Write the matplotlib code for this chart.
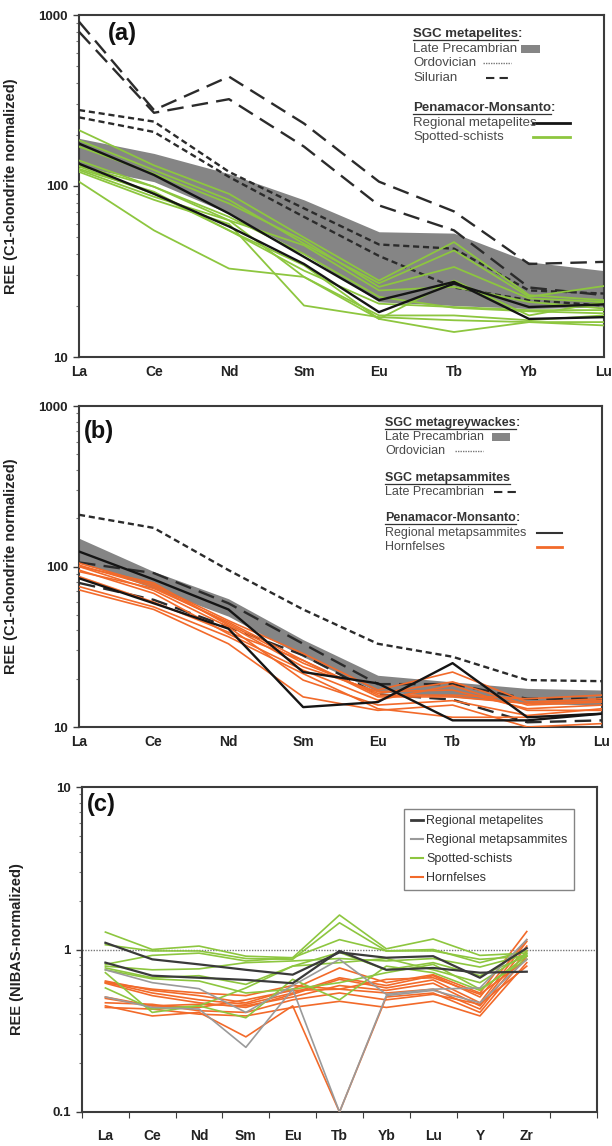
import numpy as np
import matplotlib
matplotlib.use('Agg')
import matplotlib.pyplot as plt
from matplotlib.lines import Line2D
from matplotlib.patches import Rectangle
from matplotlib.ticker import FixedLocator, FixedFormatter, LogLocator, NullFormatter

plt.rcParams['font.family'] = ['Liberation Sans', 'DejaVu Sans']

ree8 = ['La', 'Ce', 'Nd', 'Sm', 'Eu', 'Tb', 'Yb', 'Lu']
ree10 = ['La', 'Ce', 'Nd', 'Sm', 'Eu', 'Tb', 'Yb', 'Lu', 'Y', 'Zr']

# ---- (a) metapelites, C1-chondrite normalized
pel_band_hi = [190, 155, 118, 83, 54, 53, 36, 32]
pel_band_lo = [130, 106, 69, 40, 21, 20, 19.2, 19.6]
pel_ordovician = [[278, 238, 121, 74, 45.5, 43, 24.5, 23.5],
                  [252, 207, 113, 66, 39, 25.5, 21.5, 20]]
pel_silurian = [[914, 278, 436, 232, 106, 71, 35, 36],
                [798, 268, 322, 170, 77, 55, 25.5, 23]]
reg_metapelites = [[177, 116, 69, 38.5, 21.5, 27.5, 16.7, 17.1],
                   [135, 90, 58, 35, 18.3, 26.9, 19.6, 20.3]]
spotted_schists = [[212, 132, 90, 50, 28, 47, 23, 21.5],
                   [185, 124, 83, 46, 27, 42, 22.5, 26],
                   [170, 118, 79, 48, 25.7, 33.6, 22, 21],
                   [132, 99, 63, 45, 24.5, 25.7, 21, 19.2],
                   [126, 92.5, 55, 32, 20.5, 19.6, 18.8, 18.8],
                   [124, 86.5, 63, 29.4, 17.5, 17.5, 16.4, 17.5],
                   [121, 83, 60, 20, 17.1, 16.4, 16, 16],
                   [106, 55, 32.9, 29.4, 16.7, 14, 16, 15.3],
                   [141, 99, 66, 40, 22.5, 19.4, 18.5, 18],
                   [130, 90, 55, 34.4, 16.7, 28, 17.5, 21]]

# ---- (b) metagreywackes / metapsammites, C1-chondrite normalized
gw_band_hi = [150, 93, 63, 35, 21, 19.1, 17.4, 17]
gw_band_lo = [107, 73, 49, 27.4, 16.6, 15.4, 14, 13.7]
gw_ordovician = [[210, 174, 95, 54, 33, 27.4, 19.6, 19.3]]
ps_precambrian = [[106, 91, 59, 33, 18.5, 18.5, 15, 15],
                  [79, 62, 42, 28, 16, 14.8, 10.7, 11]]
reg_metapsammites = [[124, 83, 54, 22, 18.7, 11, 11, 12.1],
                     [84.5, 59, 41, 13.3, 14.3, 25, 11.5, 12.1]]
hornfelses = [[105, 77, 46, 28.7, 17, 22, 14.3, 15],
              [102, 75, 44, 25, 16.2, 19.1, 13.7, 14.3],
              [100, 79, 43, 23.7, 16.6, 17, 13, 13.7],
              [95, 68, 38, 22.6, 14.7, 18.2, 12.7, 12.7],
              [75, 56, 36.5, 21.5, 13, 11.5, 11.5, 12.1],
              [71.5, 54, 33, 15.4, 12.7, 13.7, 10, 10.5],
              [100, 71, 42, 19.6, 13.7, 14.6, 11.8, 13],
              [93, 73, 45, 26, 15.4, 15.4, 14, 14.6],
              [86.6, 60, 39, 26, 15.8, 15.8, 15, 15.8]]

# ---- (c) NIBAS normalized
c_metapelites = [[1.10, 0.87, 0.81, 0.75, 0.70, 0.96, 0.89, 0.91, 0.67, 1.02],
                 [0.83, 0.69, 0.67, 0.65, 0.62, 0.98, 0.75, 0.77, 0.72, 0.73]]
c_metapsammites = [[0.75, 0.625, 0.574, 0.41, 0.60, 0.87, 0.53, 0.57, 0.58, 1.15],
                   [0.51, 0.44, 0.43, 0.25, 0.57, 0.10, 0.52, 0.56, 0.47, 0.87]]
c_spotted = [[1.28, 1.0, 1.05, 0.91, 0.89, 1.63, 1.01, 1.16, 0.92, 0.95],
             [1.07, 0.98, 0.98, 0.88, 0.87, 1.46, 0.98, 0.98, 0.87, 0.91],
             [0.81, 0.92, 0.95, 0.85, 0.89, 1.15, 0.98, 1.0, 0.83, 0.98],
             [0.79, 0.75, 0.76, 0.83, 0.85, 0.88, 0.85, 0.88, 0.78, 0.93],
             [0.77, 0.67, 0.69, 0.61, 0.79, 0.96, 0.75, 0.83, 0.69, 0.91],
             [0.75, 0.66, 0.64, 0.54, 0.57, 0.625, 0.72, 0.81, 0.57, 0.87],
             [0.72, 0.41, 0.45, 0.38, 0.655, 0.49, 0.79, 0.72, 0.56, 0.91],
             [0.58, 0.43, 0.45, 0.58, 0.79, 0.83, 0.88, 0.75, 0.625, 0.95]]
c_hornfelses = [[0.64, 0.56, 0.52, 0.47, 0.57, 0.77, 0.625, 0.70, 0.54, 1.29],
                [0.63, 0.54, 0.49, 0.46, 0.54, 0.67, 0.60, 0.69, 0.51, 1.15],
                [0.62, 0.52, 0.47, 0.44, 0.53, 0.655, 0.58, 0.65, 0.47, 1.12],
                [0.51, 0.45, 0.46, 0.45, 0.51, 0.60, 0.56, 0.62, 0.45, 1.05],
                [0.50, 0.45, 0.44, 0.49, 0.56, 0.57, 0.54, 0.57, 0.43, 0.98],
                [0.45, 0.39, 0.41, 0.29, 0.45, 0.10, 0.51, 0.54, 0.41, 0.91],
                [0.44, 0.43, 0.40, 0.39, 0.44, 0.48, 0.44, 0.48, 0.39, 0.83],
                [0.47, 0.46, 0.42, 0.41, 0.49, 0.54, 0.49, 0.53, 0.46, 0.79],
                [0.625, 0.57, 0.54, 0.52, 0.60, 0.57, 0.655, 0.67, 0.53, 0.87]]

GREEN = '#8dc63f'
ORANGE = '#f26a2a'
BLACK = '#151515'
BAND = '#858585'
DASH = '#2b2b2b'
FRAME = '#3c3c3c'
TXT = '#4a4a4a'
LONG_DASH = (0, (7, 3.5))
SHORT_DASH = (0, (2.6, 1.6))

W, H = 612, 1146
fig = plt.figure(figsize=(W / 100, H / 100), dpi=100)


def box(l, t, r, b):
    return [l / W, 1 - b / H, (r - l) / W, (b - t) / H]


def px(x, y):
    return x / W, 1 - y / H


def style_axes(ax, ymin, ymax, ylabel, labx):
    ax.set_yscale('log')
    ax.set_ylim(ymin, ymax)
    for s in ax.spines.values():
        s.set_color(FRAME)
        s.set_linewidth(1.5)
    dec = [ymin * 10 ** k for k in range(int(round(np.log10(ymax / ymin))) + 1)]
    ax.yaxis.set_major_locator(FixedLocator(dec))
    ax.yaxis.set_major_formatter(FixedFormatter(['%g' % d for d in dec]))
    ax.yaxis.set_minor_locator(LogLocator(base=10, subs=np.arange(2, 10)))
    ax.yaxis.set_minor_formatter(NullFormatter())
    ax.tick_params(axis='y', which='major', direction='out', length=4, width=1, color=FRAME,
                   labelsize=9.5, pad=4)
    ax.tick_params(axis='y', which='minor', direction='out', length=2.5, width=0.8, color='#777777')
    for lab in ax.get_yticklabels():
        lab.set_fontweight('bold')
        lab.set_color('#222222')
    ax.set_ylabel(ylabel, fontsize=10.5, fontweight='bold', color='#222222')
    ax.yaxis.set_label_coords(labx, 0.5)


def style_ree8(ax):
    ax.set_xlim(0, 7)
    ax.set_xticks(range(8))
    ax.set_xticklabels(ree8, fontsize=10, fontweight='bold', color='#222222')
    ax.tick_params(axis='x', length=0, pad=6)


def header(x, y, name, size, colon=True):
    t = fig.text(*px(x, y), name, fontsize=size, fontweight='bold', color='#333333', va='center')
    r = fig.canvas.get_renderer()
    bb = t.get_window_extent(r).transformed(fig.transFigure.inverted())
    fig.add_artist(Line2D([bb.x0, bb.x1], [bb.y0 - 0.0002, bb.y0 - 0.0002],
                          color='#333333', lw=0.9, transform=fig.transFigure))
    if colon:
        fig.text(bb.x1, px(x, y)[1], ':', fontsize=size, fontweight='bold', color='#333333', va='center')


def entry(x, y, label, size):
    fig.text(*px(x, y), label, fontsize=size, color=TXT, va='center')


def key_line(x0, x1, y, **kw):
    fig.add_artist(Line2D([x0 / W, x1 / W], [1 - y / H, 1 - y / H], transform=fig.transFigure, **kw))


def key_box(x0, x1, y, h=8):
    fig.add_artist(Rectangle((x0 / W, 1 - (y + h / 2) / H), (x1 - x0) / W, h / H,
                             transform=fig.transFigure, color=BAND, lw=0))


x8 = np.arange(8)

# ---------------- (a)
axa = fig.add_axes(box(79, 15, 604, 357))
axa.fill_between(x8, pel_band_lo, pel_band_hi, color=BAND, lw=0, zorder=1)
for v in pel_ordovician:
    axa.plot(x8, v, color=DASH, lw=1.7, ls=SHORT_DASH, zorder=3)
for v in pel_silurian:
    axa.plot(x8, v, color=DASH, lw=1.7, ls=LONG_DASH, zorder=3)
for v in spotted_schists:
    axa.plot(x8, v, color=GREEN, lw=1.3, zorder=4)
for v in reg_metapelites:
    axa.plot(x8, v, color=BLACK, lw=1.7, zorder=5)
axa.spines['bottom'].set_color('#6f8f2a')
style_axes(axa, 10, 1000, 'REE (C1-chondrite normalized)', -0.116)
style_ree8(axa)
axa.text(0.055, 0.945, '(a)', transform=axa.transAxes, fontsize=17, fontweight='bold',
         va='center', ha='left', color='#111111')

header(413, 34, 'SGC metapelites', 9.5)
entry(413, 49, 'Late Precambrian', 9.5)
entry(413, 63, 'Ordovician', 9.5)
entry(413, 78, 'Silurian', 9.5)
header(413, 108, 'Penamacor-Monsanto', 9.5)
entry(413, 123, 'Regional metapelites', 9.5)
entry(413, 137, 'Spotted-schists', 9.5)
key_box(521, 540, 49)
key_line(483, 511, 63, color='#777777', lw=1, ls=(0, (1, 0.8)))
key_line(486, 509, 78, color=DASH, lw=1.5, ls=(0, (4, 2.5)))
key_line(533, 570, 123, color=BLACK, lw=2)
key_line(533, 570, 137, color=GREEN, lw=2)

# ---------------- (b)
axb = fig.add_axes(box(79, 406, 602, 727))
axb.fill_between(x8, gw_band_lo, gw_band_hi, color=BAND, lw=0, zorder=1)
for v in gw_ordovician:
    axb.plot(x8, v, color=DASH, lw=1.7, ls=SHORT_DASH, zorder=3)
for v in ps_precambrian:
    axb.plot(x8, v, color=DASH, lw=1.7, ls=LONG_DASH, zorder=3)
for v in hornfelses:
    axb.plot(x8, v, color=ORANGE, lw=1.2, zorder=4)
for v in reg_metapsammites:
    axb.plot(x8, v, color=BLACK, lw=1.7, zorder=5)
axb.spines['bottom'].set_color('#c2602a')
style_axes(axb, 10, 1000, 'REE (C1-chondrite normalized)', -0.116)
style_ree8(axb)
axb.text(0.01, 0.92, '(b)', transform=axb.transAxes, fontsize=17, fontweight='bold',
         va='center', ha='left', color='#111111')

header(385, 423, 'SGC metagreywackes', 9)
entry(385, 437, 'Late Precambrian', 9)
entry(385, 451, 'Ordovician', 9)
header(385, 478, 'SGC metapsammites', 9, colon=False)
entry(385, 492, 'Late Precambrian', 9)
header(385, 518, 'Penamacor-Monsanto', 9)
entry(385, 533, 'Regional metapsammites', 9)
entry(385, 547, 'Hornfelses', 9)
key_box(492, 510, 437)
key_line(455, 483, 451, color='#777777', lw=1, ls=(0, (1, 0.8)))
key_line(494, 518, 492, color=DASH, lw=1.5, ls=(0, (4, 2.5)))
key_line(537, 562, 533, color='#333333', lw=1.5)
key_line(537, 562, 547, color=ORANGE, lw=2)

# ---------------- (c)
axc = fig.add_axes(box(82, 787, 597, 1112))
xc = np.arange(10) + 0.5
axc.axhline(1, color='#777777', lw=1, ls=(0, (1, 1)), zorder=1)
for v in c_hornfelses:
    axc.plot(xc, v, color=ORANGE, lw=1.2, zorder=3)
for v in c_spotted:
    axc.plot(xc, v, color=GREEN, lw=1.2, zorder=3)
for v in c_metapsammites:
    axc.plot(xc, v, color='#9a9a9a', lw=1.2, zorder=4)
for v in c_metapelites:
    axc.plot(xc, v, color='#3a3a3a', lw=1.6, zorder=5)
style_axes(axc, 0.1, 10, 'REE (NIBAS-normalized)', -0.113)
axc.set_xlim(0, 11)
axc.set_xticks(range(12))
axc.set_xticklabels([])
axc.set_xticks(xc, minor=True)
axc.set_xticklabels(ree10, minor=True, fontsize=10, fontweight='bold', color='#222222')
axc.tick_params(axis='x', which='major', direction='out', length=4, color=FRAME)
axc.tick_params(axis='x', which='minor', length=0, pad=12)
axc.text(0.01, 0.945, '(c)', transform=axc.transAxes, fontsize=17, fontweight='bold',
         va='center', ha='left', color='#111111')

handles = [Line2D([], [], color='#3a3a3a', lw=2),
           Line2D([], [], color='#9a9a9a', lw=1.5),
           Line2D([], [], color=GREEN, lw=1.5),
           Line2D([], [], color=ORANGE, lw=1.5)]
labels = ['Regional metapelites', 'Regional metapsammites', 'Spotted-schists', 'Hornfelses']
leg = axc.legend(handles, labels, loc='upper right', bbox_to_anchor=(0.967, 0.951),
                 fontsize=9, frameon=True, fancybox=False, handlelength=1.0,
                 handletextpad=0.25, labelspacing=0.55, borderpad=0.5)
leg.get_frame().set_edgecolor('#666666')
leg.get_frame().set_linewidth(1)
for t in leg.get_texts():
    t.set_color('#333333')

fig.savefig('out.png', dpi=100)
